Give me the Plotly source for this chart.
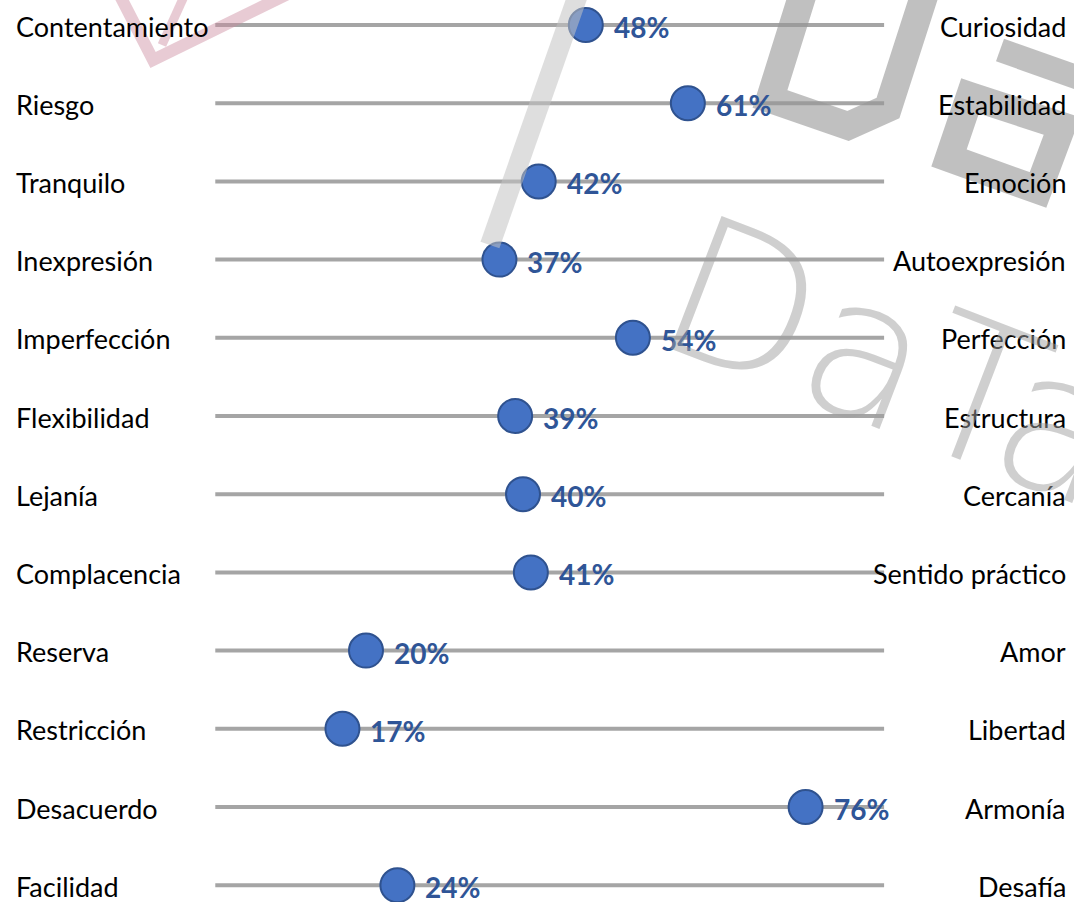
import plotly.graph_objects as go

left_labels = ["Contentamiento", "Riesgo", "Tranquilo", "Inexpresión", "Imperfección",
               "Flexibilidad", "Lejanía", "Complacencia", "Reserva", "Restricción",
               "Desacuerdo", "Facilidad"]
right_labels = ["Curiosidad", "Estabilidad", "Emoción", "Autoexpresión", "Perfección",
                "Estructura", "Cercanía", "Sentido práctico", "Amor", "Libertad",
                "Armonía", "Desafía"]
values = [48, 61, 42, 37, 54, 39, 40, 41, 20, 17, 76, 24]

W, H = 1074, 902
LINE_START, LINE_END = 0.8, 86
rows = list(range(len(values)))

fig = go.Figure()

# grey track lines
for r in rows:
    fig.add_shape(type="line", x0=LINE_START, x1=LINE_END, y0=r, y1=r,
                  xref="x", yref="y", line=dict(color="#a5a5a5", width=4), layer="below")

fig.add_trace(go.Scatter(
    x=values, y=rows, mode="markers",
    marker=dict(size=34, color="#4472C4", line=dict(color="#2F528F", width=2)),
    hoverinfo="skip", showlegend=False))

annotations = []
for r, (lab_l, lab_r, v) in enumerate(zip(left_labels, right_labels, values)):
    annotations.append(dict(x=14 / W, xref="paper", y=r, yref="y", text=lab_l,
                            xanchor="left", yanchor="middle", showarrow=False, yshift=-1,
                            font=dict(family="Lato", size=27, color="#000000")))
    annotations.append(dict(x=1068 / W, xref="paper", y=r, yref="y", text=lab_r,
                            xanchor="right", yanchor="middle", showarrow=False, yshift=-1,
                            font=dict(family="Lato", size=27, color="#000000")))
    annotations.append(dict(x=v, xref="x", y=r, yref="y", text=f"{v}%",
                            xanchor="left", yanchor="middle", showarrow=False,
                            xshift=26, yshift=-2,
                            font=dict(family="Lato", size=28, color="#2F5597", weight="bold")))

# watermark (decorative)
def P(x, y):
    return f"{x / W:.4f},{1 - y / H:.4f}"

wm_shapes = [
    dict(path=f"M {P(579, -8)} L {P(490, 245)}", color="rgba(195,195,195,0.55)", width=20),
    dict(path=f"M {P(804, -10)} L {P(770, 99)} L {P(848, 126)} L {P(888, 108)} L {P(926, -10)}",
         color="rgba(150,150,150,0.6)", width=28),
    dict(path=f"M {P(970, 96)} L {P(1062, 126)} L {P(1038, 190)} L {P(949, 158)} Z",
         color="rgba(150,150,150,0.6)", width=28),
    dict(path=f"M {P(1000, 50)} L {P(1090, 82)}", color="rgba(150,150,150,0.6)", width=24),
    dict(path=f"M {P(118, -8)} L {P(153, 60)} L {P(292, -8)}",
         color="rgba(205,140,160,0.45)", width=12),
    dict(path=f"M {P(186, -8)} L {P(162, 45)}",
         color="rgba(205,140,160,0.45)", width=9),
]
for s in wm_shapes:
    fig.add_shape(type="path", path=s["path"], xref="paper", yref="paper",
                  line=dict(color=s["color"], width=s["width"]), layer="above")

annotations.append(dict(x=895 / W, y=1 - 362 / H, xref="paper", yref="paper", text="DaTa",
                        showarrow=False, textangle=21, xanchor="center", yanchor="middle",
                        font=dict(family="DejaVu Sans", size=195, color="rgba(160,160,160,0.5)",
                                  weight=200)))

px0, slope = 209.0, 7.85
fig.update_layout(
    width=W, height=H,
    margin=dict(l=0, r=0, t=0, b=0),
    paper_bgcolor="white", plot_bgcolor="white",
    xaxis=dict(range=[-px0 / slope, (W - px0) / slope], visible=False, fixedrange=True),
    yaxis=dict(range=[(H - 25) / 78.2, -25 / 78.2], visible=False, fixedrange=True),
    annotations=annotations,
    showlegend=False,
)

fig.write_html("out.html", config={"displayModeBar": False},
               post_script="document.body.style.margin='0';document.body.style.overflow='hidden';")
